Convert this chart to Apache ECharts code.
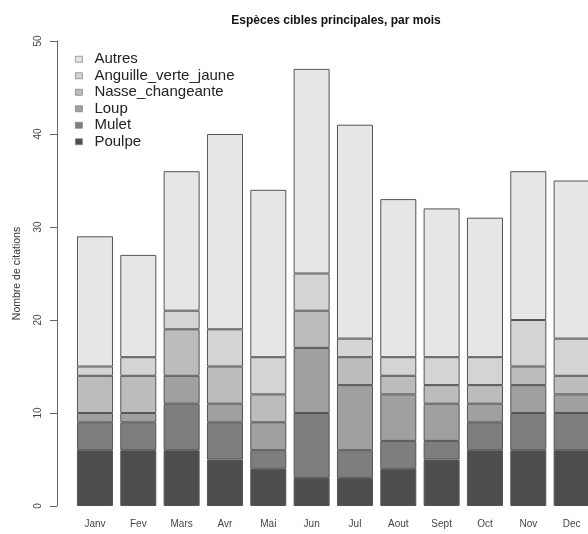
<!DOCTYPE html>
<html>
<head>
<meta charset="utf-8">
<script src="https://cdn.jsdelivr.net/npm/echarts@6/dist/echarts.min.js"></script>
<style>
  html, body { margin: 0; padding: 0; background: #ffffff; }
  #chart { width: 588px; height: 534px; }
</style>
</head>
<body>
<div id="chart"></div>
<script>
// Months shown along the bottom
const months = ['Janv', 'Fev', 'Mars', 'Avr', 'Mai', 'Jun', 'Jul', 'Aout', 'Sept', 'Oct', 'Nov', 'Dec'];

// Citations per species and month (stacked bottom to top)
const poulpe    = [6, 6, 6, 5, 4, 3, 3, 4, 5, 6, 6, 6];
const mulet     = [3, 3, 5, 4, 2, 7, 3, 3, 2, 3, 4, 4];
const loup      = [1, 1, 3, 2, 3, 7, 7, 5, 4, 2, 3, 2];
const nasse     = [4, 4, 5, 4, 3, 4, 3, 2, 2, 2, 2, 2];
const anguille  = [1, 2, 2, 4, 4, 4, 2, 2, 3, 3, 5, 4];
const autres    = [14, 11, 15, 21, 18, 22, 23, 17, 16, 15, 16, 17];

const yTicks = [0, 10, 20, 30, 40, 50];

const speciesNames = ['Poulpe', 'Mulet', 'Loup', 'Nasse_changeante', 'Anguille_verte_jaune', 'Autres'];
const speciesData  = [poulpe, mulet, loup, nasse, anguille, autres];
const greys = ['#4d4d4d', '#7e7e7e', '#a0a0a0', '#bcbcbc', '#d4d4d4', '#e6e6e6'];

const FONT = '"Liberation Sans", Arial, Helvetica, sans-serif';

const chart = echarts.init(document.getElementById('chart'), null, { renderer: 'canvas' });

chart.setOption({
  backgroundColor: '#ffffff',
  animation: false,
  title: {
    text: 'Espèces cibles principales, par mois',
    left: 331,
    top: 10,
    textAlign: 'center',
    textStyle: { fontFamily: FONT, fontSize: 12, fontWeight: 'bold', color: '#111' }
  },
  legend: {
    orient: 'vertical',
    left: 70,
    top: 46,
    itemWidth: 7,
    itemHeight: 6,
    itemGap: 0,
    icon: 'rect',
    data: speciesNames.slice().reverse(),
    itemStyle: { borderColor: '#888', borderWidth: 0.8 },
    textStyle: { fontFamily: FONT, fontSize: 15, lineHeight: 16.5, color: '#222', padding: [0, 0, 0, 7] },
    selectedMode: false
  },
  grid: {
    left: 73.3,
    top: 41,
    width: 520,
    bottom: 28,
    containLabel: false,
    outerBoundsMode: 'none'
  },
  xAxis: {
    type: 'category',
    data: months,
    axisLine: { show: false },
    axisTick: { show: false },
    axisLabel: { fontFamily: FONT, fontSize: 10, color: '#444', margin: 13 }
  },
  yAxis: {
    type: 'value',
    min: 0,
    max: 50,
    interval: 10,
    offset: 16.3,
    splitLine: { show: false },
    axisLine: { show: true, lineStyle: { color: '#666', width: 1 } },
    axisTick: { show: true, length: 7, lineStyle: { color: '#666' } },
    axisLabel: {
      fontFamily: FONT, fontSize: 10, color: '#444', rotate: 90, margin: 14,
      formatter: v => (yTicks.indexOf(v) >= 0 ? String(v) : '')
    },
    name: 'Nombre de citations',
    nameLocation: 'middle',
    nameRotate: 90,
    nameGap: 34,
    nameTextStyle: { fontFamily: FONT, fontSize: 10.5, color: '#333' }
  },
  series: speciesNames.map((name, i) => ({
    name: name,
    type: 'bar',
    stack: 'total',
    barCategoryGap: '16.9%',
    data: speciesData[i],
    itemStyle: { color: greys[i], borderColor: '#555', borderWidth: 1 }
  }))
});
</script>
</body>
</html>
